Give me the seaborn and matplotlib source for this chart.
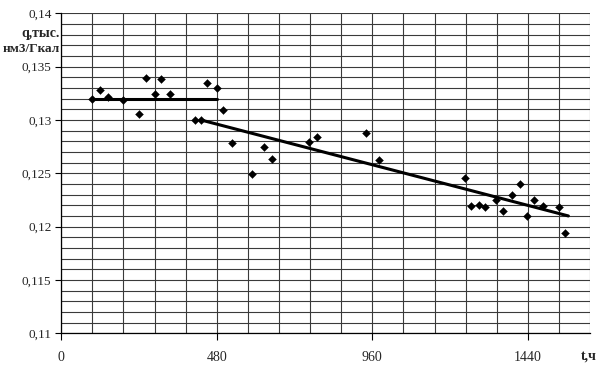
import matplotlib
matplotlib.use("Agg")
import matplotlib.pyplot as plt
import seaborn as sns
import numpy as np
import pandas as pd

# ---- data ----
t_hours = [96, 120, 145, 192, 240, 263, 289, 308, 336, 413, 431, 450, 480, 500,
           527, 589, 625, 649, 766, 790, 939, 980,
           1247, 1264, 1290, 1308, 1342, 1362, 1392, 1416, 1437, 1460, 1486, 1535, 1554]
q_values = [0.1320, 0.13284, 0.13218, 0.1319, 0.13056, 0.13394, 0.13246, 0.13384, 0.1324, 0.13003,
            0.13003, 0.1335, 0.1330, 0.13097,
            0.12784, 0.12494, 0.12747, 0.12637, 0.12797, 0.12843, 0.12874, 0.12621,
            0.12453, 0.12194, 0.12203, 0.12187, 0.1225, 0.1215, 0.1230, 0.12403, 0.12097,
            0.1225, 0.12194, 0.12181, 0.11941]

flat_t = [96, 480]
flat_q = [0.1320, 0.1320]
trend_t = [431, 1565]
trend_q = [0.1300, 0.1210]

x_ticks = [0, 480, 960, 1440]
x_ticklabels = ["0", "480", "960", "1440"]
y_ticks = [0.11, 0.115, 0.12, 0.125, 0.13, 0.135, 0.14]
y_ticklabels = ["0,11", "0,115", "0,12", "0,125", "0,13", "0,135", "0,14"]

sns.set_style("white")
plt.rcParams['font.family'] = ['Liberation Serif', 'DejaVu Serif']

fig = plt.figure(figsize=(6.0, 3.78), dpi=100)
ax = fig.add_axes([0.102, 0.1183, 0.8815, 0.8465])

pts = pd.DataFrame({"t": t_hours, "q": q_values})
flat = pd.DataFrame({"t": flat_t, "q": flat_q})
trend = pd.DataFrame({"t": trend_t, "q": trend_q})

# grid
for gx in np.arange(0, 1632 + 1, 96):
    ax.axvline(gx, color="#3a3a3a", lw=0.8, zorder=1)
for gy in np.arange(0.11, 0.14 + 1e-9, 0.001):
    ax.axhline(gy, color="#3a3a3a", lw=0.8, zorder=1)

sns.lineplot(data=flat, x="t", y="q", ax=ax, color="black", lw=2.2, zorder=3)
sns.lineplot(data=trend, x="t", y="q", ax=ax, color="black", lw=2.2, zorder=3)
sns.scatterplot(data=pts, x="t", y="q", ax=ax, marker="D", s=16, color="black",
                edgecolor="black", linewidth=0.3, zorder=4)

ax.set_xlim(0, 1632)
ax.set_ylim(0.11, 0.14)
ax.set_xticks(x_ticks)
ax.set_xticklabels(x_ticklabels, fontsize=10)
ax.set_yticks(y_ticks)
ax.set_yticklabels(y_ticklabels, fontsize=9.5)
ax.tick_params(axis="x", length=5, width=0.8, color="black", pad=8, bottom=True)
ax.tick_params(axis="y", length=4, width=0.8, color="black", pad=3, left=True)
ax.set_xlabel("")
ax.set_ylabel("")
for s in ax.spines.values():
    s.set_visible(False)
ax.spines["left"].set_visible(True)
ax.spines["bottom"].set_visible(True)
ax.spines["left"].set_color("black")
ax.spines["bottom"].set_color("black")
ax.spines["left"].set_linewidth(0.9)
ax.spines["bottom"].set_linewidth(0.9)

fig.text(60 / 600, 1 - 33 / 378, "q,тыс.", ha="right", va="center",
         fontsize=10, fontweight="bold")
fig.text(60 / 600, 1 - 49 / 378, "нм3/Гкал", ha="right", va="center",
         fontsize=9.5, fontweight="bold")
fig.text(597 / 600, 1 - 356 / 378, "t,ч", ha="right", va="center",
         fontsize=10, fontweight="bold")

fig.savefig("out.png", dpi=100, facecolor="white")
